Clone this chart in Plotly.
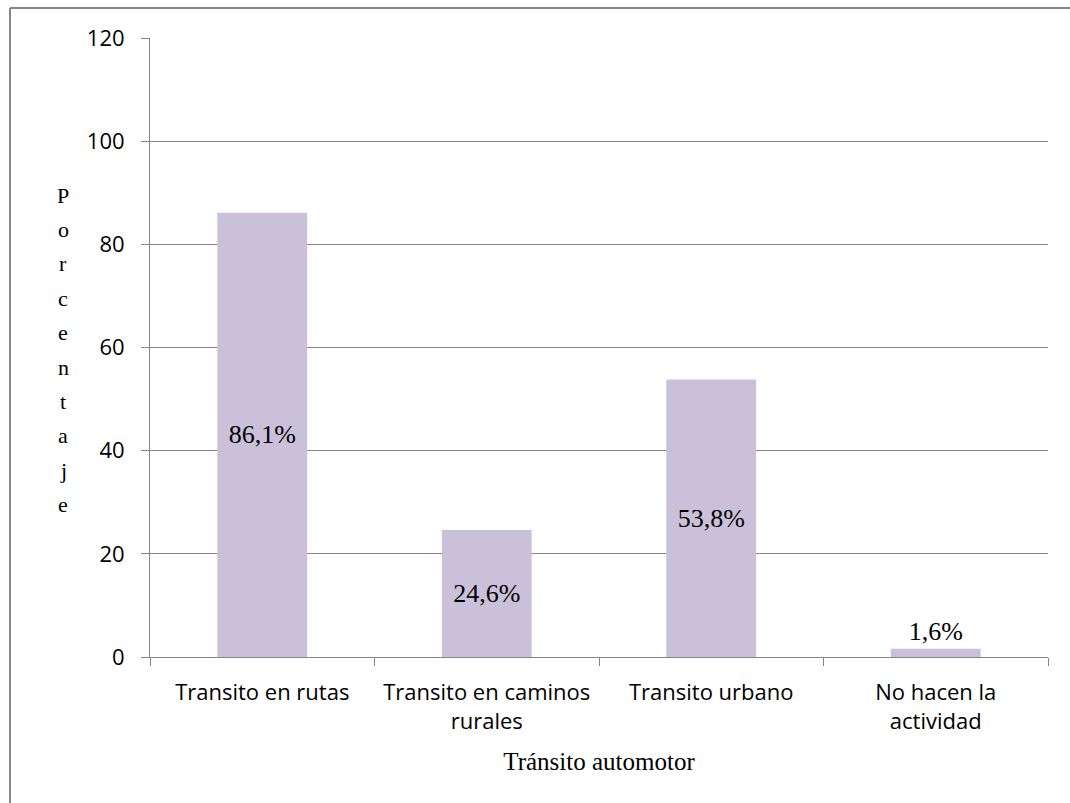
import plotly.graph_objects as go

# Survey results: share of respondents per kind of motor traffic
categorias = ["Transito en rutas", "Transito en caminos<br>rurales",
              "Transito urbano", "No hacen la<br>actividad"]
porcentajes = [86.1, 24.6, 53.8, 1.6]
etiquetas = ["86,1%", "24,6%", "53,8%", "1,6%"]
posicion_etiquetas = ["inside", "inside", "inside", "outside"]
ticks_y = [0, 20, 40, 60, 80, 100, 120]
titulo_y = "Porcentaje"
titulo_x = "Tránsito automotor"

W, H = 1070, 803
L, R, T, B = 150, 22, 38, 146
GRID = "#868686"
SERIF = "Liberation Serif"
SANS = "Open Sans"

fig = go.Figure(go.Bar(
    x=categorias,
    y=porcentajes,
    marker=dict(color="#CBC0DA", line=dict(width=0)),
    text=etiquetas,
    textposition=posicion_etiquetas,
    insidetextanchor="middle",
    textfont=dict(family=SERIF, size=26, color="#000000"),
    cliponaxis=False,
    width=0.4,
))

fig.update_layout(
    width=W, height=H,
    margin=dict(l=L, r=R, t=T, b=B),
    paper_bgcolor="white", plot_bgcolor="white",
    showlegend=False,
    font=dict(family=SANS, size=22, color="#000000"),
    uniformtext=dict(mode=False),
)

fig.update_xaxes(
    type="category",
    showline=True, linecolor=GRID, linewidth=1,
    ticks="outside", ticklen=8, tickcolor=GRID, tickwidth=1,
    tickson="boundaries",
    showgrid=False,
    tickfont=dict(family=SANS, size=22, color="#000000"),
    ticklabelstandoff=16,
    title=dict(text=titulo_x, font=dict(family=SERIF, size=25, color="#000000"),
               standoff=18),
)

fig.update_yaxes(
    range=[0, 120],
    tickvals=ticks_y,
    showline=True, linecolor=GRID, linewidth=1,
    ticks="outside", ticklen=8, tickcolor=GRID, tickwidth=1,
    showgrid=True, gridcolor=GRID, gridwidth=1,
    zeroline=False,
    tickfont=dict(family=SANS, size=22, color="#000000"),
    ticklabelstandoff=12,
)

# Vertical, letter-by-letter y-axis title
plot_h = H - T - B
pw = W - L - R
top_px, step_px = 195, 34.4
for i, letra in enumerate(titulo_y):
    y_px = top_px + i * step_px
    fig.add_annotation(
        text=letra, xref="paper", yref="paper",
        x=(63 - L) / pw, y=1 - (y_px - T) / plot_h,
        xanchor="center", yanchor="middle", showarrow=False,
        font=dict(family=SERIF, size=22, color="#000000"),
    )

# Outer chart frame (left and top edges visible)
fx0 = (10 - L) / pw
fy0 = 1 + (T - 8) / plot_h
fig.add_shape(type="line", xref="paper", yref="paper",
              x0=fx0, x1=fx0, y0=fy0, y1=-(H - T - plot_h) / plot_h - 0.1,
              line=dict(color=GRID, width=2))
fig.add_shape(type="line", xref="paper", yref="paper",
              x0=fx0, x1=1 + 40 / pw, y0=fy0, y1=fy0,
              line=dict(color=GRID, width=2))

fig.write_html("out.html")
